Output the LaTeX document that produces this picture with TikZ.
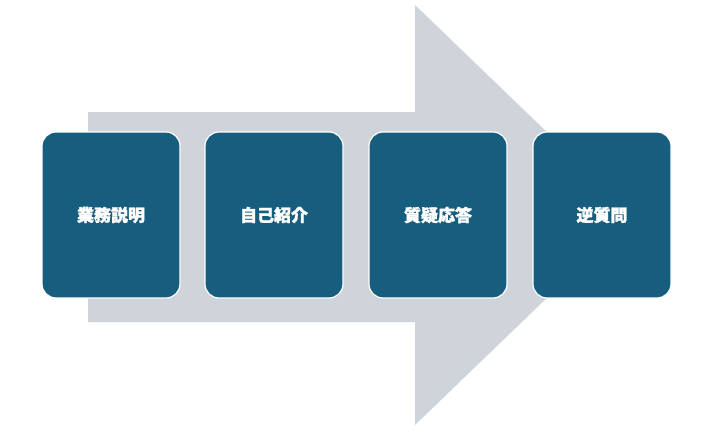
\documentclass[tikz,border=0pt]{standalone}
\usepackage{fontspec}
\newfontfamily\cjk[FakeBold=1.5]{Noto Sans CJK JP}
\definecolor{boxc}{HTML}{175E7E}
\definecolor{arrc}{HTML}{CFD3DA}
\tikzset{stage/.style={draw=white,line width=1.2pt,fill=boxc,rounded corners=14pt,minimum width=138pt,minimum height=166pt,text=white,font=\cjk\fontsize{17}{20}\selectfont\bfseries,inner sep=0pt}}
\begin{document}
\begin{tikzpicture}[x=1pt,y=-1pt]
\useasboundingbox (0,0) rectangle (710,439);
\fill[arrc] (88,112) -- (415,112) -- (415,5) -- (633,215) -- (415,425) -- (415,322) -- (88,322) -- cycle;
\node[stage] (a) at (111,215) {業務説明};
\node[stage] (b) at (274,215) {自己紹介};
\node[stage] (c) at (438,215) {質疑応答};
\node[stage] (d) at (602,215) {逆質問};
\end{tikzpicture}
\end{document}
